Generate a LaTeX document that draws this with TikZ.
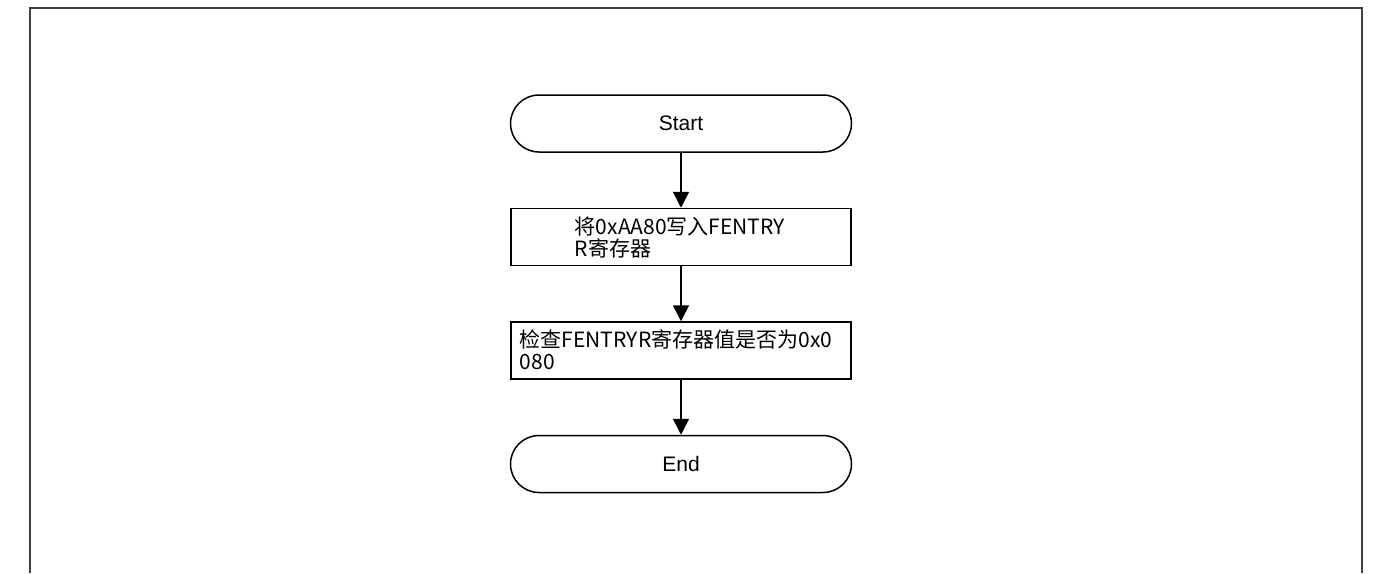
\documentclass[tikz,border=0pt]{standalone}
\usepackage{fontspec}
\setmainfont{Liberation Sans}
\newfontfamily\cjk{Noto Sans CJK SC}
\usetikzlibrary{arrows.meta}
\begin{document}
\begin{tikzpicture}[x=1pt,y=-1pt,
  term/.style={draw=black,line width=1.5pt,rounded corners=28.5pt,minimum width=341pt,minimum height=57pt,inner sep=0pt,font=\fontsize{21}{24}\selectfont},
  proc/.style={draw=black,line width=1.5pt,minimum width=340pt,minimum height=57pt,inner sep=0pt},
  txt/.style={anchor=center,align=left,inner sep=0pt,font=\cjk\fontsize{21}{22}\selectfont},
  flow/.style={draw=black,line width=1.5pt,-{Triangle[length=16pt,width=16pt]}}]
\useasboundingbox (0,0) rectangle (1373,573);
\draw[line width=2pt,draw=black!75] (30,573) -- (30,8) -- (1362,8) -- (1362,573);
\node[term] (start) at (681,123.5) {Start};
\node[proc] (p1) at (681,237) {};
\node[txt] (t1) at (680,237.5) {将0xAA80写入FENTRY\\R寄存器};
\node[proc] (p2) at (681,350.5) {};
\node[txt] (t2) at (676,349.5) {检查FENTRYR寄存器值是否为0x0\\080};
\node[term] (end) at (681,464) {End};
\draw[flow] (start) -- (p1);
\draw[flow] (p1) -- (p2);
\draw[flow] (p2) -- (end);
\end{tikzpicture}
\end{document}
